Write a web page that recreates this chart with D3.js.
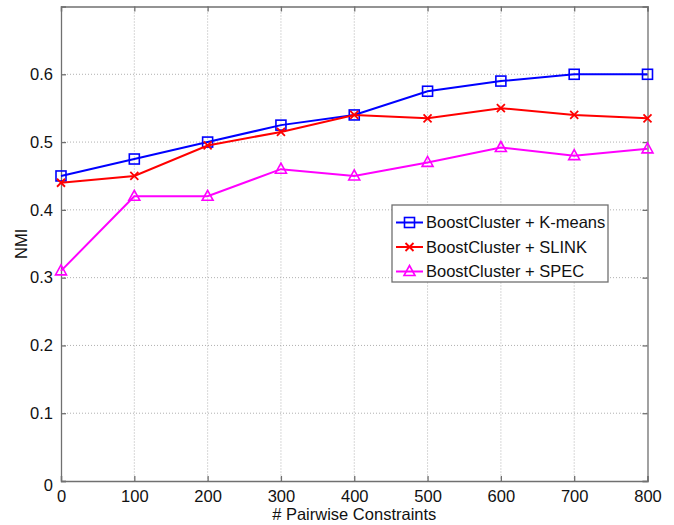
<!DOCTYPE html>
<html><head><meta charset="utf-8">
<script src="https://cdn.jsdelivr.net/npm/d3@7"></script>
<style>body{margin:0;background:#fff}svg{display:block}text{font-family:"Liberation Sans",Arial,sans-serif}</style>
</head><body>
<svg id="c" width="674" height="525"></svg>
<script>
const constraints = [0,100,200,300,400,500,600,700,800];
const kmeans = [0.45,0.475,0.50,0.525,0.54,0.575,0.59,0.60,0.60];
const slink  = [0.44,0.45,0.495,0.515,0.54,0.535,0.55,0.54,0.535];
const spec   = [0.31,0.42,0.42,0.46,0.45,0.47,0.492,0.48,0.49];
const seriesNames = ["BoostCluster + K-means","BoostCluster + SLINK","BoostCluster + SPEC"];
const xTicks = [0,100,200,300,400,500,600,700,800];
const yTicks = [0,0.1,0.2,0.3,0.4,0.5,0.6];

const svg = d3.select("#c");
const L=61, R=647.5, T=6.5, B=481;
const x = d3.scaleLinear().domain([0,800]).range([L,R]);
const y = d3.scaleLinear().domain([0,0.7]).range([B,T]);
const frame="#707070";

// grid
const g = svg.append("g");
g.selectAll(".gx").data(xTicks.slice(1,-1)).join("line")
 .attr("x1",d=>x(d)).attr("x2",d=>x(d)).attr("y1",T).attr("y2",B)
 .attr("stroke","#b0b0b0").attr("stroke-width",1).attr("stroke-dasharray","1,2");
g.selectAll(".gy").data(yTicks.slice(1)).join("line")
 .attr("y1",d=>y(d)).attr("y2",d=>y(d)).attr("x1",L).attr("x2",R)
 .attr("stroke","#b0b0b0").attr("stroke-width",1).attr("stroke-dasharray","1,2");

// axes
const xa = svg.append("g").attr("transform",`translate(0,${B})`)
 .call(d3.axisBottom(x).tickValues(xTicks).tickSize(-5).tickPadding(9).tickFormat(d3.format("d")));
const xt = svg.append("g").attr("transform",`translate(0,${T})`)
 .call(d3.axisTop(x).tickValues(xTicks).tickSize(-5).tickFormat(""));
const ya = svg.append("g").attr("transform",`translate(${L},0)`)
 .call(d3.axisLeft(y).tickValues(yTicks).tickSize(-5).tickPadding(8).tickFormat(d=>d===0?"0":d3.format(".1f")(d)));
const yr = svg.append("g").attr("transform",`translate(${R},0)`)
 .call(d3.axisRight(y).tickValues(yTicks).tickSize(-5).tickFormat(""));
[xa,xt,ya,yr].forEach(a=>{
  a.selectAll("path").attr("stroke",frame).attr("stroke-width",1.3);
  a.selectAll("line").attr("stroke",frame).attr("stroke-width",1.3);
  a.selectAll("text").attr("fill","#111").style("font-size","16.5px");
});
ya.selectAll(".tick").filter(d=>d===0).select("text").attr("dy","0.6em");

// axis labels
svg.append("text").attr("x",(L+R)/2).attr("y",520).attr("text-anchor","middle")
 .style("font-size","16.5px").attr("fill","#111").text("# Pairwise Constraints");
svg.append("text").attr("transform",`translate(27,${(T+B)/2}) rotate(-90)`).attr("text-anchor","middle")
 .style("font-size","16.5px").attr("fill","#111").text("NMI");

const series=[
 {name:seriesNames[0],vals:kmeans,color:"#0000ff",marker:"square"},
 {name:seriesNames[1],vals:slink,color:"#ff0000",marker:"x"},
 {name:seriesNames[2],vals:spec,color:"#ff00ff",marker:"tri"}
];
function drawMarker(sel,m,color){
  if(m==="square") sel.append("rect").attr("x",-5).attr("y",-5).attr("width",10).attr("height",10)
    .attr("fill","none").attr("stroke",color).attr("stroke-width",1.6);
  else if(m==="x") sel.append("path").attr("d","M-4,-4L4,4M-4,4L4,-4").attr("stroke",color).attr("stroke-width",1.8);
  else sel.append("path").attr("d","M0,-6L5.5,4L-5.5,4Z").attr("fill","none").attr("stroke",color).attr("stroke-width",1.6);
}
const line=d3.line().x((d,i)=>x(constraints[i])).y(d=>y(d));
series.forEach(s=>{
  svg.append("path").attr("d",line(s.vals)).attr("fill","none").attr("stroke",s.color).attr("stroke-width",2);
  s.vals.forEach((v,i)=>{
    const m=svg.append("g").attr("transform",`translate(${x(constraints[i])},${y(v)})`);
    drawMarker(m,s.marker,s.color);
  });
});

// legend
const lg=svg.append("g").attr("transform","translate(392,205)");
lg.append("rect").attr("width",216).attr("height",77).attr("fill","#fff").attr("stroke",frame).attr("stroke-width",1.3);
series.forEach((s,i)=>{
  const yy=17.5+i*24.5;
  lg.append("line").attr("x1",4).attr("x2",31).attr("y1",yy).attr("y2",yy).attr("stroke",s.color).attr("stroke-width",2);
  drawMarker(lg.append("g").attr("transform",`translate(17.5,${yy})`),s.marker,s.color);
  lg.append("text").attr("x",34).attr("y",yy).attr("dy","0.36em").style("font-size","16.5px").attr("fill","#111").text(s.name);
});
</script>
</body></html>
